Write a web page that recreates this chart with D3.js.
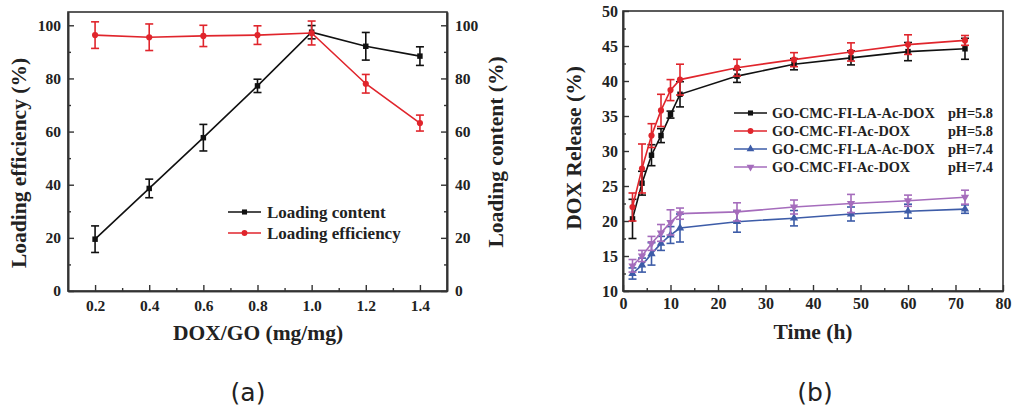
<!DOCTYPE html>
<html>
<head>
<meta charset="utf-8">
<title>DOX loading and release</title>
<script src="https://d3js.org/d3.v7.min.js"></script>
<style>
  body { margin: 0; background: #fff; }
  svg text { font-family: "Liberation Serif", "Times New Roman", serif; font-weight: bold; fill: #222; }
  .cap { font-family: "DejaVu Sans", sans-serif; font-weight: normal; }
</style>
</head>
<body>
<svg id="chart" width="1015" height="409"></svg>
<script>
// ---- panel (a) data ----
let ratio = [0.2, 0.4, 0.6, 0.8, 1.0, 1.2, 1.4];
let loadContent = [19.5, 38.6, 57.7, 77.2, 97.4, 92.1, 88.4];
let loadContentErr = [5, 3.5, 5, 2.5, 2.5, 5.2, 3.5];
let loadEff = [96.3, 95.5, 96, 96.3, 97.1, 78, 63.2];
let loadEffErr = [5, 5, 4, 3.5, 4.5, 3.5, 3];

// ---- panel (b) data ----
let hours = [2, 4, 6, 8, 10, 12, 24, 36, 48, 60, 72];
let relLA58 = [20.3, 25.4, 29.4, 32.2, 35.2, 38.1, 40.7, 42.4, 43.3, 44.2, 44.6];
let relLA58Err = [2.8, 1.7, 1.5, 1.0, 0.5, 1.8, 0.9, 0.8, 1.0, 1.3, 1.5];
let rel58 = [22, 27.5, 32.2, 35.8, 38.7, 40.2, 41.9, 43.05, 44.15, 45.2, 45.8];
let rel58Err = [2, 3.5, 1.7, 2.3, 1.5, 2.2, 1.2, 1.0, 1.3, 1.4, 0.7];
let relLA74 = [12.5, 13.7, 15.3, 16.8, 18, 19, 19.9, 20.4, 21, 21.4, 21.7];
let relLA74Err = [0.8, 1.0, 1.6, 1.0, 1.2, 2.0, 1.5, 1.1, 1.0, 1.0, 0.6];
let rel74 = [13.6, 15, 16.8, 18.3, 19.8, 21.05, 21.3, 22, 22.5, 22.9, 23.4];
let rel74Err = [0.9, 0.8, 1.0, 1.2, 1.8, 0.8, 1.3, 1.0, 1.3, 0.8, 1.0];

let svg = d3.select("#chart");
let frameColor = "#333";
let purple = "#a56cbc";

// error bars + line + markers for one series
let drawSeries = function(g, x, y, xs, ys, es, color, shape, flip) {
    let pts = xs.map((d, i) => ({x: d, y: ys[i], e: es[i]}));
    g.append("path")
        .datum(pts)
        .attr("fill", "none")
        .attr("stroke", color)
        .attr("stroke-width", 1.6)
        .attr("d", d3.line().x(d => x(d.x)).y(d => y(d.y)));
    let eb = g.append("g").attr("stroke", color).attr("stroke-width", 1.6);
    pts.forEach(d => {
        let cx = x(d.x), y1 = y(d.y + d.e), y2 = y(d.y - d.e);
        eb.append("line").attr("x1", cx).attr("x2", cx).attr("y1", y1).attr("y2", y2);
        eb.append("line").attr("x1", cx - 4).attr("x2", cx + 4).attr("y1", y1).attr("y2", y1);
        eb.append("line").attr("x1", cx - 4).attr("x2", cx + 4).attr("y1", y2).attr("y2", y2);
    });
    g.selectAll(null).data(pts).enter()
        .append("path")
        .attr("transform", d => `translate(${x(d.x)},${y(d.y)})` + (flip ? " rotate(180)" : ""))
        .attr("d", d3.symbol().type(shape).size(30)())
        .attr("fill", color);
};

let legendRow = function(g, lx, ly, color, shape, flip) {
    g.append("line").attr("x1", lx).attr("x2", lx + 33).attr("y1", ly).attr("y2", ly)
        .attr("stroke", color).attr("stroke-width", 1.6);
    g.append("path").attr("transform", `translate(${lx + 16.5},${ly})` + (flip ? " rotate(180)" : ""))
        .attr("d", d3.symbol().type(shape).size(26)()).attr("fill", color);
};

// ================= panel (a) =================
let ax = d3.scaleLinear().domain([0.1, 1.5]).range([68, 447]);
let ay = d3.scaleLinear().domain([0, 105]).range([291, 12]);
let ga = svg.append("g");

ga.append("rect").attr("x", 68).attr("y", 12).attr("width", 379).attr("height", 279)
    .attr("fill", "none").attr("stroke", frameColor).attr("stroke-width", 1.6);

ga.append("g").attr("class", "ta").attr("transform", "translate(0,291)")
    .call(d3.axisBottom(ax).tickValues(ratio).tickFormat(d3.format(".1f")).tickSizeInner(-6).tickSizeOuter(0).tickPadding(9));
ga.append("g").attr("transform", "translate(0,291)")
    .call(d3.axisBottom(ax).tickValues([0.3, 0.5, 0.7, 0.9, 1.1, 1.3]).tickFormat("").tickSizeInner(-3).tickSizeOuter(0));
ga.append("g").attr("class", "ta").attr("transform", "translate(68,0)")
    .call(d3.axisLeft(ay).tickValues([0, 20, 40, 60, 80, 100]).tickSizeInner(-6).tickSizeOuter(0).tickPadding(7));
ga.append("g").attr("transform", "translate(68,0)")
    .call(d3.axisLeft(ay).tickValues([10, 30, 50, 70, 90]).tickFormat("").tickSizeInner(-3).tickSizeOuter(0));
ga.append("g").attr("class", "ta").attr("transform", "translate(447,0)")
    .call(d3.axisRight(ay).tickValues([0, 20, 40, 60, 80, 100]).tickSizeInner(-6).tickSizeOuter(0).tickPadding(8));
ga.append("g").attr("transform", "translate(447,0)")
    .call(d3.axisRight(ay).tickValues([10, 30, 50, 70, 90]).tickFormat("").tickSizeInner(-3).tickSizeOuter(0));

drawSeries(ga, ax, ay, ratio, loadContent, loadContentErr, "#111", d3.symbolSquare);
drawSeries(ga, ax, ay, ratio, loadEff, loadEffErr, "#e0252c", d3.symbolCircle);

legendRow(ga, 228, 212, "#111", d3.symbolSquare);
legendRow(ga, 228, 233, "#e0252c", d3.symbolCircle);
ga.append("text").attr("x", 267).attr("y", 212).attr("dy", "0.35em").style("font-size", "17px").text("Loading content");
ga.append("text").attr("x", 267).attr("y", 233).attr("dy", "0.35em").style("font-size", "17px").text("Loading efficiency");

ga.append("text").attr("transform", "translate(26,163) rotate(-90)").attr("text-anchor", "middle")
    .style("font-size", "21.5px").text("Loading efficiency (%)");
ga.append("text").attr("transform", "translate(503,152) rotate(-90)").attr("text-anchor", "middle")
    .style("font-size", "21.5px").text("Loading content (%)");
ga.append("text").attr("x", 258).attr("y", 340).attr("text-anchor", "middle")
    .style("font-size", "21.5px").text("DOX/GO (mg/mg)");
ga.append("text").attr("class", "cap").attr("x", 248).attr("y", 401).attr("text-anchor", "middle")
    .style("font-size", "25px").text("(a)");

// ================= panel (b) =================
let bx = d3.scaleLinear().domain([0, 80]).range([623, 1003]);
let by = d3.scaleLinear().domain([10, 50]).range([291, 11]);
let gb = svg.append("g");

gb.append("rect").attr("x", 623).attr("y", 11).attr("width", 380).attr("height", 280)
    .attr("fill", "none").attr("stroke", frameColor).attr("stroke-width", 1.6);

gb.append("g").attr("class", "tb").attr("transform", "translate(0,291)")
    .call(d3.axisBottom(bx).tickValues(d3.range(0, 81, 10)).tickSizeInner(-6).tickSizeOuter(0).tickPadding(7));
gb.append("g").attr("transform", "translate(0,291)")
    .call(d3.axisBottom(bx).tickValues(d3.range(5, 80, 10)).tickFormat("").tickSizeInner(-3).tickSizeOuter(0));
gb.append("g").attr("class", "tb").attr("transform", "translate(623,0)")
    .call(d3.axisLeft(by).tickValues(d3.range(10, 51, 5)).tickSizeInner(-6).tickSizeOuter(0).tickPadding(5));
gb.append("g").attr("transform", "translate(623,0)")
    .call(d3.axisLeft(by).tickValues(d3.range(12.5, 50, 5)).tickFormat("").tickSizeInner(-3).tickSizeOuter(0));

drawSeries(gb, bx, by, hours, relLA74, relLA74Err, "#3d5ca8", d3.symbolTriangle);
drawSeries(gb, bx, by, hours, rel74, rel74Err, purple, d3.symbolTriangle, true);
drawSeries(gb, bx, by, hours, relLA58, relLA58Err, "#111", d3.symbolSquare);
drawSeries(gb, bx, by, hours, rel58, rel58Err, "#e0252c", d3.symbolCircle);

let legB = [
    {c: "#111", s: d3.symbolSquare, name: "GO-CMC-FI-LA-Ac-DOX", ph: "pH=5.8"},
    {c: "#e0252c", s: d3.symbolCircle, name: "GO-CMC-FI-Ac-DOX", ph: "pH=5.8"},
    {c: "#3d5ca8", s: d3.symbolTriangle, name: "GO-CMC-FI-LA-Ac-DOX", ph: "pH=7.4"},
    {c: purple, s: d3.symbolTriangle, name: "GO-CMC-FI-Ac-DOX", ph: "pH=7.4", flip: true}
];
legB.forEach((d, i) => {
    let ly = 113 + i * 18;
    legendRow(gb, 734, ly, d.c, d.s, d.flip);
    gb.append("text").attr("x", 772).attr("y", ly).attr("dy", "0.35em").style("font-size", "14.3px").text(d.name);
    gb.append("text").attr("x", 993).attr("y", ly).attr("dy", "0.35em").attr("text-anchor", "end").style("font-size", "14.3px").text(d.ph);
});

gb.append("text").attr("transform", "translate(581,148) rotate(-90)").attr("text-anchor", "middle")
    .style("font-size", "21.5px").text("DOX Release (%)");
gb.append("text").attr("x", 813).attr("y", 339).attr("text-anchor", "middle")
    .style("font-size", "21.5px").text("Time (h)");
gb.append("text").attr("class", "cap").attr("x", 815).attr("y", 401).attr("text-anchor", "middle")
    .style("font-size", "25px").text("(b)");

// axis styling: serif bold numbers like the original
svg.selectAll(".ta, .tb").attr("font-family", "Liberation Serif").attr("font-weight", "bold");
svg.selectAll(".domain").attr("stroke", frameColor).attr("stroke-width", 1.6);
svg.selectAll(".tick line").attr("stroke", frameColor).attr("stroke-width", 1.4);
svg.selectAll(".tick text").attr("fill", "#222")
    .style("font-family", "'Liberation Serif', serif").style("font-weight", "bold");
svg.selectAll(".ta .tick text").style("font-size", "15.5px");
svg.selectAll(".tb .tick text").style("font-size", "16px");
</script>
</body>
</html>
